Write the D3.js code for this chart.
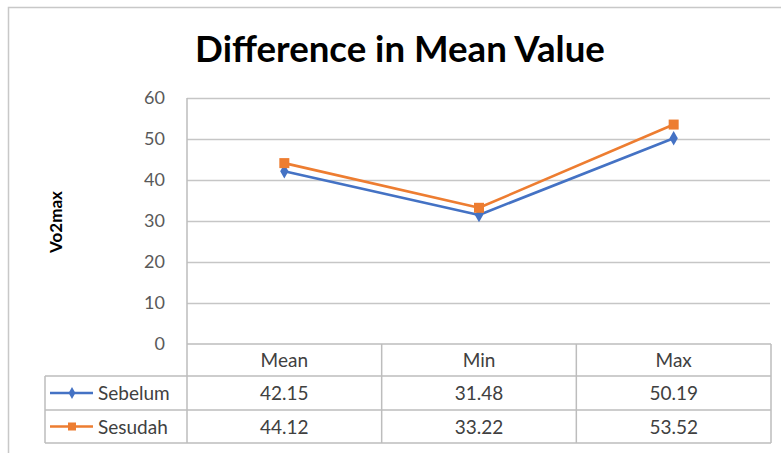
<!DOCTYPE html>
<html><head><meta charset="utf-8">
<script src="https://cdn.jsdelivr.net/npm/d3@7"></script>
<style>body{margin:0;background:#fff}svg{display:block}</style>
</head><body>
<svg id="c" width="781" height="453"></svg>
<script>
const categories = ["Mean", "Min", "Max"];
const seriesNames = ["Sebelum", "Sesudah"];
const sebelum = [42.15, 31.48, 50.19];
const sesudah = [44.12, 33.22, 53.52];
const yTicks = [0, 10, 20, 30, 40, 50, 60];
const titleText = "Difference in Mean Value";
const yLabel = "Vo2max";

(function () {
const colors = ["#4472C4", "#ED7D31"];
const font = "Lato, 'Open Sans', sans-serif";
const svg = d3.select("#c");
const fs = 19;

svg.append("rect").attr("x", 8.5).attr("y", 7.5).attr("width", 800).attr("height", 500)
  .attr("fill", "#fff").attr("stroke", "#c8c8c8").attr("stroke-width", 1.5);

const pL = 187, pR = 771, pT = 98, pB = 344;
const x = d3.scaleBand().domain(categories).range([pL, pR]);
const y = d3.scaleLinear().domain([0, 60]).range([pB, pT]);

const t = svg.append("text").attr("x", 400).attr("y", 62).attr("text-anchor", "middle")
  .attr("font-family", font).attr("font-weight", "bold").attr("font-size", 34)
  .attr("fill", "#000").text(titleText);
const tw = t.node().getComputedTextLength();
t.attr("font-size", 34 * 410 / tw);

svg.append("g").selectAll("line").data(yTicks.filter(d => d > 0)).join("line")
  .attr("x1", pL).attr("x2", pR - 1).attr("y1", d => Math.round(y(d)) + 0.5).attr("y2", d => Math.round(y(d)) + 0.5)
  .attr("stroke", "#c6c6c6").attr("stroke-width", 1.3);

const ya = svg.append("g").attr("transform", `translate(${pL},0)`)
  .call(d3.axisLeft(y).tickValues(yTicks).tickSize(0).tickPadding(22));
ya.select(".domain").remove();
ya.selectAll("text").attr("font-family", font).attr("font-size", 18).attr("fill", "#595959").attr("dy", "0.3em");

svg.append("text").attr("transform", "translate(62,222) rotate(-90)").attr("text-anchor", "middle")
  .attr("font-family", font).attr("font-weight", "bold").attr("font-size", 17).attr("fill", "#000").text(yLabel);

const rowTop = [344, 376, 410, 443];
const gridColor = "#bdbdbd";
const tg = svg.append("g");
tg.append("line").attr("x1", pL).attr("x2", pR).attr("y1", rowTop[0]).attr("y2", rowTop[0]).attr("stroke", gridColor).attr("stroke-width", 1.5);
[1, 2, 3].forEach(i => {
  tg.append("line").attr("x1", 45).attr("x2", pR).attr("y1", rowTop[i]).attr("y2", rowTop[i]).attr("stroke", gridColor).attr("stroke-width", 1.5);
});
tg.append("line").attr("x1", 45).attr("x2", 45).attr("y1", rowTop[1]).attr("y2", rowTop[3]).attr("stroke", gridColor).attr("stroke-width", 1.5);
tg.append("line").attr("x1", pL).attr("x2", pL).attr("y1", pT).attr("y2", rowTop[3]).attr("stroke", gridColor).attr("stroke-width", 1.5);
categories.forEach(c => {
  const xe = x(c) + x.bandwidth();
  tg.append("line").attr("x1", xe).attr("x2", xe).attr("y1", rowTop[0]).attr("y2", rowTop[3]).attr("stroke", gridColor).attr("stroke-width", 1.5);
});
tg.selectAll("text.h").data(categories).join("text").attr("class", "h")
  .attr("x", d => x(d) + x.bandwidth() / 2).attr("y", 367).attr("text-anchor", "middle")
  .attr("font-family", font).attr("font-size", fs).attr("fill", "#404040").text(d => d);

const allSeries = [sebelum, sesudah];
allSeries.forEach((vals, si) => {
  const cy = (rowTop[si + 1] + rowTop[si + 2]) / 2;
  tg.selectAll("text.v" + si).data(vals).join("text").attr("class", "v" + si)
    .attr("x", (d, i) => x(categories[i]) + x.bandwidth() / 2).attr("y", cy + 7).attr("text-anchor", "middle")
    .attr("font-family", font).attr("font-size", fs).attr("fill", "#404040").text(d => d.toFixed(2));
  tg.append("line").attr("x1", 50).attr("x2", 93).attr("y1", cy).attr("y2", cy)
    .attr("stroke", colors[si]).attr("stroke-width", 2.5);
  if (si === 0) {
    tg.append("path").attr("d", d3.symbol(d3.symbolDiamond, 40)()).attr("transform", `translate(72,${cy})`).attr("fill", colors[si]);
  } else {
    tg.append("rect").attr("x", 68).attr("y", cy - 4).attr("width", 8).attr("height", 8).attr("fill", colors[si]);
  }
  tg.append("text").attr("x", 98).attr("y", cy + 7).attr("font-family", font).attr("font-size", fs)
    .attr("fill", "#404040").text(seriesNames[si]);
});

const line = d3.line().x((d, i) => x(categories[i]) + x.bandwidth() / 2).y(d => y(d));
allSeries.forEach((vals, si) => {
  svg.append("path").datum(vals).attr("d", line).attr("fill", "none")
    .attr("stroke", colors[si]).attr("stroke-width", 2.6).attr("stroke-linejoin", "round");
});
svg.selectAll("path.dm").data(sebelum).join("path").attr("class", "dm")
  .attr("d", d3.symbol(d3.symbolDiamond, 60)())
  .attr("transform", (d, i) => `translate(${x(categories[i]) + x.bandwidth() / 2},${y(d)})`)
  .attr("fill", colors[0]);
svg.selectAll("rect.sq").data(sesudah).join("rect").attr("class", "sq")
  .attr("x", (d, i) => x(categories[i]) + x.bandwidth() / 2 - 5).attr("y", d => y(d) - 5)
  .attr("width", 10).attr("height", 10).attr("fill", colors[1]);
})();
</script>
</body></html>
